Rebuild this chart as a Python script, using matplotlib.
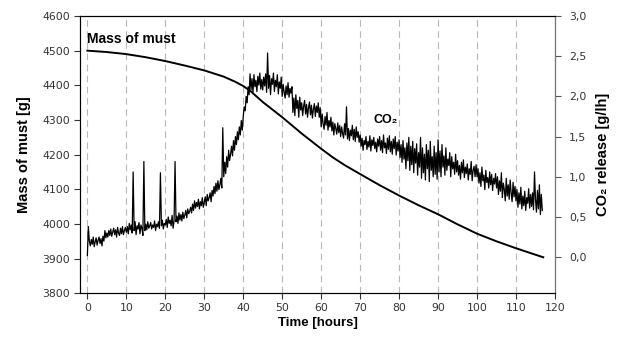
import numpy as np
import matplotlib
matplotlib.use('Agg')
import matplotlib.pyplot as plt
import matplotlib.ticker as tick

plt.rcParams['font.family'] = ['Liberation Sans', 'DejaVu Sans']

# mass of must [g]
mass_h = [0, 5, 10, 15, 20, 25, 30, 35, 38, 40, 42, 45, 50, 55, 60, 63, 66, 70,
          75, 80, 85, 90, 95, 100, 105, 110, 114, 117]
mass_g = [4500, 4496, 4490, 4481, 4470, 4457, 4443, 4425, 4410, 4398, 4382,
          4352, 4308, 4261, 4217, 4192, 4170, 4144, 4112, 4082, 4054, 4028,
          3999, 3972, 3950, 3930, 3915, 3904]

# CO2 release [g/lh], one reading every quarter hour (one row = 5 hours)
co2 = [
    0.02, 0.38, 0.20, 0.14, 0.22, 0.16, 0.25, 0.13, 0.19, 0.24, 0.15, 0.21, 0.25, 0.17, 0.23, 0.14, 0.26, 0.20, 0.33, 0.24,
    0.30, 0.25, 0.33, 0.27, 0.35, 0.26, 0.31, 0.36, 0.28, 0.34, 0.25, 0.37, 0.30, 0.27, 0.36, 0.29, 0.38, 0.28, 0.33, 0.37,
    0.31, 0.38, 0.29, 0.42, 0.34, 0.40, 0.30, 1.06, 0.33, 0.44, 0.28, 0.39, 0.35, 0.43, 0.29, 0.40, 0.36, 0.27, 1.19, 0.33,
    0.41, 0.34, 0.44, 0.36, 0.39, 0.43, 0.35, 0.40, 0.37, 0.45, 0.33, 0.41, 0.38, 0.44, 0.36, 1.05, 0.39, 0.46, 0.35, 0.42,
    0.40, 0.47, 0.37, 0.50, 0.42, 0.46, 0.39, 0.52, 0.36, 0.45, 1.19, 0.44, 0.51, 0.42, 0.55, 0.46, 0.53, 0.45, 0.56, 0.48,
    0.52, 0.58, 0.49, 0.60, 0.54, 0.57, 0.62, 0.55, 0.66, 0.58, 0.70, 0.61, 0.68, 0.63, 0.72, 0.60, 0.69, 0.64, 0.74, 0.62,
    0.68, 0.75, 0.64, 0.78, 0.70, 0.74, 0.80, 0.69, 0.83, 0.76, 0.88, 0.79, 0.92, 0.82, 0.95, 0.84, 0.90, 0.98, 0.86, 1.61,
    1.00, 1.18, 1.04, 1.25, 1.12, 1.33, 1.20, 1.28, 1.38, 1.26, 1.45, 1.33, 1.50, 1.40, 1.56, 1.46, 1.62, 1.52, 1.70, 1.58,
    1.75, 1.87, 1.82, 2.00, 1.92, 2.12, 2.02, 2.28, 2.08, 2.22, 2.05, 2.27, 2.12, 2.20, 2.06, 2.25, 2.14, 2.29, 2.09, 2.21,
    2.08, 2.24, 2.13, 2.28, 2.05, 2.54, 2.10, 2.26, 2.02, 2.22, 2.15, 2.29, 2.06, 2.20, 2.12, 2.27, 2.03, 2.18, 2.10, 2.24,
    2.00, 2.15, 2.05, 1.98, 2.13, 2.02, 2.17, 1.99, 2.10, 2.04, 2.12, 1.80, 1.98, 1.76, 2.02, 1.85, 1.95, 1.74, 1.99, 1.83,
    1.92, 1.76, 1.88, 1.95, 1.78, 1.90, 1.74, 1.86, 1.93, 1.77, 1.89, 1.73, 1.84, 1.91, 1.75, 1.88, 1.80, 1.92, 1.74, 1.86,
    1.62, 1.78, 1.66, 1.59, 1.75, 1.64, 1.80, 1.58, 1.70, 1.62, 1.74, 1.57, 1.68, 1.52, 1.66, 1.60, 1.53, 1.67, 1.55, 1.64,
    1.50, 1.62, 1.54, 1.48, 1.66, 1.52, 1.87, 1.47, 1.60, 1.45, 1.58, 1.51, 1.64, 1.46, 1.59, 1.44, 1.62, 1.49, 1.56, 1.43,
    1.52, 1.38, 1.48, 1.33, 1.45, 1.40, 1.50, 1.34, 1.44, 1.37, 1.51, 1.32, 1.46, 1.39, 1.49, 1.35, 1.43, 1.31, 1.47, 1.38,
    1.50, 1.33, 1.45, 1.30, 1.52, 1.36, 1.42, 1.29, 1.48, 1.34, 1.51, 1.31, 1.44, 1.28, 1.47, 1.35, 1.50, 1.27, 1.43, 1.32,
    1.46, 1.24, 1.40, 1.18, 1.45, 1.22, 1.36, 1.10, 1.42, 1.20, 1.49, 1.08, 1.38, 1.15, 1.44, 1.05, 1.35, 1.17, 1.41, 1.02,
    1.30, 1.12, 1.49, 0.98, 1.36, 1.05, 1.28, 0.96, 1.40, 1.10, 1.33, 0.94, 1.44, 1.08, 1.25, 1.00, 1.38, 1.03, 1.30, 0.97,
    1.46, 1.06, 1.32, 1.00, 1.40, 1.12, 1.26, 1.02, 1.36, 1.08, 1.22, 1.14, 1.30, 1.00, 1.25, 1.10, 1.18, 1.03, 1.28, 1.06,
    1.20, 1.02, 1.14, 0.97, 1.18, 1.05, 1.21, 0.99, 1.12, 1.04, 1.16, 0.96, 1.10, 1.03, 1.19, 0.95, 1.08, 1.13, 1.00, 1.15,
    1.00, 1.10, 0.92, 1.05, 0.88, 1.12, 0.95, 1.02, 0.84, 1.08, 0.93, 0.99, 0.86, 1.06, 0.90, 1.03, 0.83, 0.98, 0.91, 1.04,
    0.86, 1.00, 0.78, 0.95, 0.82, 1.05, 0.74, 0.92, 0.84, 0.70, 0.98, 0.76, 0.90, 0.72, 0.96, 0.80, 0.69, 0.93, 0.75, 0.88,
    0.70, 0.84, 0.62, 0.80, 0.66, 0.87, 0.60, 0.76, 0.64, 0.82, 0.58, 0.74, 0.67, 0.85, 0.61, 0.78, 0.63, 0.80, 0.59, 1.06,
    0.72, 0.56, 0.83, 0.60, 0.90, 0.53, 0.78, 0.58,
]
co2_h = np.arange(len(co2)) * 0.25

right_ticks = [0.0, 0.5, 1.0, 1.5, 2.0, 2.5, 3.0]
right_labels = ['0,0', '0,5', '1,0', '1,5', '2,0', '2,5', '3,0']

fig = plt.figure(figsize=(6.18, 3.38), dpi=100)
ax = fig.add_axes([0.1294, 0.1322, 0.7686, 0.8205])
ax2 = ax.twinx()

for h in range(0, 120, 10):
    ax.axvline(h, color='#b8b8b8', lw=0.8, ls=(0, (6, 4)), zorder=0)

ax.plot(mass_h, mass_g, color='black', lw=1.4, zorder=3)
ax2.plot(co2_h, co2, color='black', lw=0.9)

ax.set_xlim(-1.9, 120)
ax.set_ylim(3800, 4600)
ax2.set_ylim(-0.45, 3.0)
ax.xaxis.set_major_locator(tick.MultipleLocator(10))
ax.yaxis.set_major_locator(tick.MultipleLocator(100))
ax2.set_yticks(right_ticks)
ax2.set_yticklabels(right_labels)

for lab in ax.get_xticklabels() + ax.get_yticklabels() + ax2.get_yticklabels():
    lab.set_fontfamily('DejaVu Sans')
    lab.set_fontsize(7.8)
    lab.set_color('#333333')
ax.tick_params(direction='out', length=4, width=0.8, color='#333333', pad=3)
ax2.tick_params(direction='out', length=4, width=0.8, color='#555555', pad=6)

for s in ['left', 'bottom']:
    ax.spines[s].set_color('#333333')
ax.spines['top'].set_color('black')
ax2.spines['right'].set_color('#777777')
ax2.spines['right'].set_linewidth(0.8)

ax.set_xlabel('Time [hours]', fontsize=9.5, fontweight='bold', labelpad=3)
ax.set_ylabel('Mass of must [g]', fontsize=10.5, fontweight='bold', labelpad=8)
ax2.set_ylabel('CO₂ release [g/lh]', fontsize=10.5, fontweight='bold', labelpad=7)

ax.text(0, 4534, 'Mass of must', fontsize=10, fontweight='bold', va='center', ha='left')
ax2.text(73.4, 1.70, 'CO₂', fontsize=9, fontweight='bold', va='center', ha='left')

fig.savefig('out.png', dpi=100)
